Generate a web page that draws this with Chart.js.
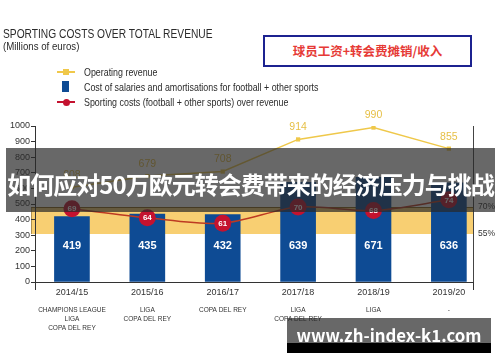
<!DOCTYPE html>
<html><head><meta charset="utf-8">
<script src="https://cdn.jsdelivr.net/npm/chart.js@4.4.0/dist/chart.umd.min.js"></script>
<style>
html,body{margin:0;padding:0;background:#fff;}
#wrap{position:relative;width:500px;height:362px;overflow:hidden;font-family:"Liberation Sans",Arial,sans-serif;color:#2a2a2a;}
#c{position:absolute;left:0;top:0;}
.abs{position:absolute;white-space:nowrap;}
#title{left:3px;top:26px;font-size:13px;line-height:15px;color:#2b2b2b;transform:scaleX(0.786);transform-origin:0 0;}
#sub{left:3px;top:40px;font-size:11px;line-height:12px;color:#2b2b2b;transform:scaleX(0.88);transform-origin:0 0;}
.lg{left:84px;font-size:10.5px;line-height:12px;color:#2b2b2b;transform:scaleX(0.845);transform-origin:0 0;}
.sym{position:absolute;}
#box{left:263px;top:35px;width:205px;height:28px;border:2px solid #1c2290;background:#fff;text-align:center;font-family:"Noto Sans CJK SC",sans-serif;font-weight:bold;font-size:12.5px;line-height:28px;color:#e63a36;}
#banner{left:6px;top:148px;width:489px;height:40px;padding-top:24px;background:rgba(40,40,40,0.7);text-align:center;font-family:"Noto Sans CJK SC",sans-serif;font-weight:bold;font-size:24px;line-height:24px;letter-spacing:-1px;color:#fff;}
#wm{left:287px;top:318px;width:204px;height:25px;background:rgba(40,40,40,0.7);}
#wmb{left:287px;top:343px;width:204px;height:10px;background:#000;}
#wmt{left:287px;top:323px;width:204px;height:25px;text-align:center;font-family:"Noto Sans CJK SC",sans-serif;font-weight:bold;font-size:16.8px;line-height:25px;color:#fff;}
</style></head><body>
<div id="wrap">
<canvas id="c" width="500" height="362"></canvas>
<div class="abs" id="title">SPORTING COSTS OVER TOTAL REVENUE</div>
<div class="abs" id="sub">(Millions of euros)</div>
<div class="sym" style="left:57px;top:71px;width:18px;height:2px;background:#f0c84a"></div>
<div class="sym" style="left:63px;top:69px;width:6px;height:6px;background:#f0c84a"></div>
<div class="abs lg" style="top:66px">Operating revenue</div>
<div class="sym" style="left:62px;top:81px;width:7px;height:11px;background:#0e4b94"></div>
<div class="abs lg" style="top:81px">Cost of salaries and amortisations for football + other sports</div>
<div class="sym" style="left:57px;top:101px;width:18px;height:2px;background:#c4122f"></div>
<div class="sym" style="left:62.5px;top:98.5px;width:7px;height:7px;border-radius:50%;background:#c4122f"></div>
<div class="abs lg" style="top:96px">Sporting costs (football + other sports) over revenue</div>
<div class="abs" id="box">球员工资+转会费摊销/收入</div>
<div class="abs" id="banner">如何应对50万欧元转会费带来的经济压力与挑战</div>
<div class="abs" id="wm"></div>
<div class="abs" id="wmb"></div>
<div class="abs" id="wmt">www.zh-index-k1.com</div>
</div>
<script>
const seasons = ['2014/15','2015/16','2016/17','2017/18','2018/19','2019/20'];
const competitions = [
  ['CHAMPIONS LEAGUE','LIGA','COPA DEL REY'],
  ['LIGA','COPA DEL REY'],
  ['COPA DEL REY'],
  ['LIGA','COPA DEL REY'],
  ['LIGA'],
  ['-']
];
const operatingRevenue = [608, 679, 708, 914, 990, 855];
const salaryCosts = [419, 435, 432, 639, 671, 636];
const costRatio = [69, 64, 61, 70, 68, 74];
const leftTicks = [0,100,200,300,400,500,600,700,800,900,1000];
const rightTicks = [55, 70];
const bandRange = [55, 70];

const xy = arr => arr.map((v, i) => ({x: i, y: v}));
const FAM = '"Liberation Sans",Arial,sans-serif';

const deco = {
  id: 'deco',
  beforeDraw(chart) {
    const {ctx, chartArea: a, scales} = chart;
    const yt = scales.y1.getPixelForValue(bandRange[1]);
    const yb = scales.y1.getPixelForValue(bandRange[0]);
    ctx.save();
    ctx.fillStyle = '#f8cf72';
    ctx.fillRect(a.left - 4, yt, a.right - a.left + 4, yb - yt);
    ctx.strokeStyle = '#8a6418';
    ctx.lineWidth = 1;
    ctx.beginPath();
    ctx.moveTo(a.left - 4, yt + 0.5); ctx.lineTo(a.right, yt + 0.5);
    ctx.stroke();
    ctx.strokeStyle = 'rgba(120,100,60,0.6)';
    ctx.beginPath();
    ctx.moveTo(a.left - 3.5, yt); ctx.lineTo(a.left - 3.5, yb);
    ctx.stroke();
    ctx.restore();
  },
  afterDraw(chart) {
    const {ctx, chartArea: a} = chart;
    ctx.save();
    ctx.strokeStyle = '#333';
    ctx.lineWidth = 1;
    ctx.beginPath();
    ctx.moveTo(a.left + 0.5, a.bottom); ctx.lineTo(a.left + 0.5, a.bottom + 8);
    ctx.moveTo(a.right + 0.5, a.bottom); ctx.lineTo(a.right + 0.5, a.bottom + 8);
    ctx.stroke();
    ctx.restore();
  },
  afterDatasetsDraw(chart) {
    const {ctx, scales} = chart;
    ctx.save();
    ctx.textAlign = 'center';
    ctx.textBaseline = 'middle';
    ctx.fillStyle = '#fff';
    ctx.font = 'bold 11px ' + FAM;
    chart.getDatasetMeta(0).data.forEach((el, i) => {
      ctx.fillText(String(salaryCosts[i]), el.x, scales.y.getPixelForValue(230));
    });
    ctx.fillStyle = '#e6bf45';
    ctx.font = '10.5px ' + FAM;
    chart.getDatasetMeta(1).data.forEach((el, i) => {
      ctx.fillText(String(operatingRevenue[i]), el.x, el.y - 12);
    });
    ctx.fillStyle = '#fff';
    ctx.font = 'bold 8px ' + FAM;
    chart.getDatasetMeta(2).data.forEach((el, i) => {
      ctx.fillText(String(costRatio[i]), el.x, el.y + 0.5);
    });
    ctx.restore();
  }
};

const xRange = {min: -0.49, max: 5.32};
const setIdxTicks = axis => { axis.ticks = seasons.map((s, i) => ({value: i})); };

new Chart(document.getElementById('c'), {
  type: 'bar',
  data: {
    datasets: [
      {type: 'bar', label: 'Cost of salaries', data: xy(salaryCosts), backgroundColor: '#0e4b94',
        barThickness: 35, xAxisID: 'x', yAxisID: 'y', order: 3},
      {type: 'line', label: 'Operating revenue', data: xy(operatingRevenue), borderColor: '#efc84a',
        borderWidth: 1.5, pointStyle: 'rect', pointRadius: 3, pointBackgroundColor: '#efc84a',
        pointBorderWidth: 0, tension: 0, xAxisID: 'x', yAxisID: 'y', order: 2},
      {type: 'line', label: 'Sporting costs over revenue', data: xy(costRatio), borderColor: '#bd3a22',
        borderWidth: 1.5, pointRadius: 8.5, pointBackgroundColor: '#c4122f', pointBorderWidth: 0,
        tension: 0.3, xAxisID: 'x', yAxisID: 'y1', order: 1}
    ]
  },
  options: {
    responsive: false,
    animation: false,
    devicePixelRatio: 1,
    layout: {padding: {top: 126, left: 0, right: 0, bottom: 0}},
    plugins: {legend: {display: false}, tooltip: {enabled: false}},
    scales: {
      x: {
        type: 'linear', position: 'bottom', weight: 0, min: xRange.min, max: xRange.max, offset: false,
        afterBuildTicks: setIdxTicks,
        afterFit: s => { s.height = 18; },
        grid: {display: false, drawTicks: false},
        border: {display: true, color: '#333', width: 1},
        ticks: {autoSkip: false, maxRotation: 0, padding: 5, color: '#333',
          font: {family: FAM, size: 9}, callback: v => seasons[v]}
      },
      x2: {
        type: 'linear', position: 'bottom', weight: 1, min: xRange.min, max: xRange.max, offset: false,
        afterBuildTicks: setIdxTicks,
        afterFit: s => { s.height = 62; },
        grid: {display: false, drawTicks: false},
        border: {display: false},
        ticks: {autoSkip: false, maxRotation: 0, padding: 6, color: '#333',
          font: {family: FAM, size: 6.5, lineHeight: 1.38}, callback: v => competitions[v]}
      },
      y: {
        type: 'linear', position: 'left', min: 0, max: 1000,
        afterBuildTicks: axis => { axis.ticks = leftTicks.map(v => ({value: v})); },
        afterFit: s => { s.width = 35; },
        grid: {display: true, drawOnChartArea: false, drawTicks: true, tickLength: 4, color: '#333'},
        border: {display: true, color: '#333', width: 1},
        ticks: {padding: 1, color: '#333', font: {family: FAM, size: 9}, callback: v => String(v)}
      },
      y1: {
        type: 'linear', position: 'right', min: 28.33, max: 115,
        afterBuildTicks: axis => { axis.ticks = rightTicks.map(v => ({value: v})); },
        afterFit: s => { s.width = 27; },
        grid: {display: false, drawTicks: false},
        border: {display: true, color: '#444', width: 1},
        ticks: {padding: 5, color: '#333', font: {family: FAM, size: 8.5}, callback: v => v + '%'}
      }
    }
  },
  plugins: [deco]
});
</script>
</body></html>
